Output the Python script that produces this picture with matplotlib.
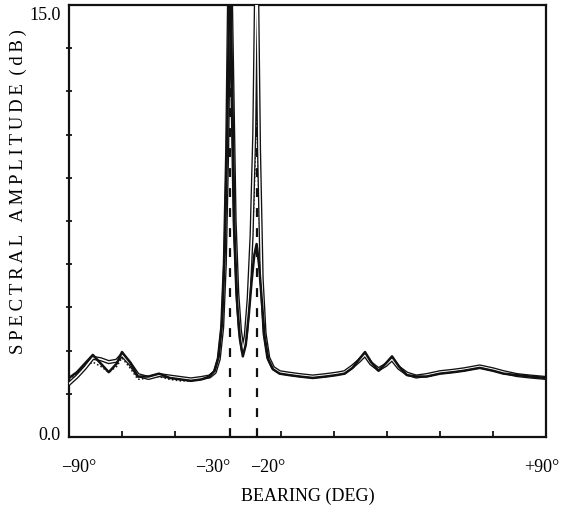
import matplotlib.pyplot as plt
from matplotlib.transforms import ScaledTranslation

plt.rcParams["font.family"] = ["Liberation Serif", "DejaVu Serif"]

# bearing grid (deg) shared by the three spectra
bearing = [-90, -87, -84, -81, -78, -75, -72, -70, -67, -64, -60, -56, -52, -48,
           -44, -40, -37, -35, -33.5, -32.2, -31.2, -30.3, -29.3, -28.4, -27.5,
           -26.5, -25.5, -24.4, -23.3, -22.2, -21.1, -20.1, -19.2, -18.3, -17.3,
           -16.2, -14.8, -13, -10.5, -7, -3, 2, 7, 11, 14, 17, 19.5, 21.7, 24,
           26.8, 29.5, 31.9, 34.5, 37.5, 41, 45, 50, 55, 59, 65, 70, 74, 79, 84, 90]

# thick solid estimate
amp_a = [2.05, 2.25, 2.55, 2.85, 2.55, 2.25, 2.55, 2.95, 2.6, 2.1, 2.1, 2.2, 2.05, 2.0,
         1.95, 2.0, 2.1, 2.3, 2.8, 4.0, 6.5, 10.5, 17.0, 12.0, 7.0,
         4.6, 3.4, 2.8, 3.2, 4.2, 5.4, 6.3, 6.7, 6.0, 4.8,
         3.5, 2.7, 2.35, 2.2, 2.15, 2.1, 2.05, 2.1, 2.15, 2.2, 2.4, 2.7, 2.95, 2.6,
         2.3, 2.55, 2.8, 2.45, 2.15, 2.1, 2.1, 2.2, 2.25, 2.3, 2.4, 2.3, 2.2, 2.15, 2.1, 2.05]

# hollow (outlined) estimate
amp_b = [1.85, 2.1, 2.4, 2.75, 2.7, 2.6, 2.65, 2.85, 2.55, 2.15, 2.05, 2.15, 2.1, 2.05,
         2.0, 2.05, 2.1, 2.25, 2.7, 3.8, 6.0, 10.0, 17.5, 12.5, 7.5,
         5.0, 3.7, 3.0, 3.5, 4.8, 7.0, 10.5, 17.0, 10.0, 5.5,
         3.6, 2.75, 2.4, 2.25, 2.2, 2.15, 2.1, 2.15, 2.2, 2.25, 2.45, 2.65, 2.85, 2.55,
         2.35, 2.5, 2.7, 2.4, 2.2, 2.1, 2.15, 2.25, 2.3, 2.35, 2.45, 2.35, 2.25, 2.15, 2.1, 2.05]

# dotted estimate
amp_c = [2.0, 2.2, 2.45, 2.6, 2.45, 2.25, 2.45, 2.75, 2.4, 2.0, 2.05, 2.1, 2.0, 1.95,
         1.95, 2.0, 2.1, 2.25, 2.75, 3.9, 6.2, 10.2, 16.5, 12.0, 7.2,
         4.8, 3.5, 2.9, 3.3, 4.5, 6.2, 8.5, 12.0, 8.0, 5.0,
         3.5, 2.7, 2.35, 2.2, 2.15, 2.1, 2.05, 2.1, 2.15, 2.2, 2.4, 2.65, 2.9, 2.55,
         2.3, 2.5, 2.7, 2.4, 2.15, 2.1, 2.1, 2.2, 2.25, 2.3, 2.4, 2.3, 2.2, 2.15, 2.1, 2.05]

true_bearings = [-29.3, -19.2]
x_ticks = [-90, -30, -20, 90]
x_labels = ["\u221290\u00b0", "\u221230\u00b0", "\u221220\u00b0", "+90\u00b0"]
x_label_shift_px = [10, -15, 13, -4]
y_label = "\u2009".join("SPECTRAL") + "\u2009 \u2009" + "\u2009".join("AMPLITUDE") \
    + "\u2009 " + "\u2009".join("(dB)")

fig = plt.figure(figsize=(5.75, 5.12), dpi=100)
ax = fig.add_axes([69 / 575, 1 - 437 / 512, 477 / 575, 432 / 512])

ink = "#111111"
ax.plot(bearing, amp_c, color=ink, lw=1.1, ls=(0, (1, 1.5)), zorder=2)
ax.plot(bearing, amp_b, color=ink, lw=3.0, zorder=3, solid_joinstyle="round")
ax.plot(bearing, amp_b, color="white", lw=1.1, zorder=4, solid_joinstyle="round")
ax.plot(bearing, amp_a, color=ink, lw=1.8, zorder=5, solid_joinstyle="round")

for b in true_bearings:
    ax.axvline(b, color=ink, lw=1.6, ls=(0, (4, 5)), zorder=1)

ax.set_xlim(-90, 90)
ax.set_ylim(0, 15)

for s in ax.spines.values():
    s.set_linewidth(1.6)
    s.set_color(ink)

ax.set_xticks(x_ticks)
ax.set_xticklabels(x_labels, fontsize=13)
ax.set_xticks(list(range(-70, 90, 20)), minor=True)
ax.tick_params(axis="x", which="major", length=0, pad=16)
ax.tick_params(axis="x", which="minor", direction="in", length=4, width=1.2)
for lab, dx in zip(ax.get_xticklabels(), x_label_shift_px):
    lab.set_transform(lab.get_transform() + ScaledTranslation(dx / 100, 0, fig.dpi_scale_trans))

ax.set_yticks([0, 15])
ax.set_yticklabels(["0.0", "15.0"], fontsize=13)
ax.set_yticks([1.5 * i for i in range(1, 10)], minor=True)
ax.tick_params(axis="y", which="major", length=0, pad=6)
ax.tick_params(axis="y", which="minor", direction="inout", length=4, width=1.2)
ylabs = ax.get_yticklabels()
ylabs[1].set_transform(ylabs[1].get_transform() + ScaledTranslation(0, -8 / 100, fig.dpi_scale_trans))
ylabs[0].set_transform(ylabs[0].get_transform() + ScaledTranslation(0, 4 / 100, fig.dpi_scale_trans))

ax.set_xlabel("BEARING (DEG)", fontsize=13, labelpad=8)
fig.text(18 / 575, 1 - 192 / 512, y_label, rotation=90,
         ha="center", va="center", fontsize=13.5)

fig.savefig("out.png", dpi=100, facecolor="white")
